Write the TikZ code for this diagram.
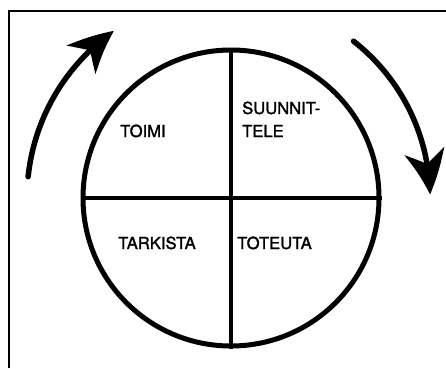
\documentclass[tikz,border=0pt]{standalone}
\usepackage{fontspec}
\setmainfont{TeX Gyre Heros}
\newfontfamily\phasefont{TeX Gyre Heros}[RawFeature={embolden=1.6}]
\usetikzlibrary{arrows.meta,bending}

\begin{document}
\begin{tikzpicture}[x=1pt, y=1pt,
    frameline/.style={line width=2.2pt, black},
    ring/.style={circle, draw, line width=5pt, minimum size=296pt, inner sep=0pt},
    divider/.style={line width=4.5pt},
    phase/.style={font=\phasefont\fontsize{16.6}{23}\selectfont, inner sep=0pt, align=left, anchor=base west},
    cyclearrow/.style={line width=5.5pt, line cap=round,
                       -{Stealth[length=44pt, width=40pt, inset=13pt, bend]}}
]
    \useasboundingbox (0,0) rectangle (446,368);

    % frame
    \draw[frameline] (9,0) -- (9,357) -- (446,357);

    % circle split in four
    \node[ring] (kierros) at (231,170) {};
    \draw[divider] (kierros.north) -- (kierros.south);
    \draw[divider] (kierros.west) -- (kierros.east);

    % phases
    \node[phase] (toimi)    at (120,231) {TOIMI};
    \node[phase] (suunn)    at (242,231) {SUUNNIT-\\TELE};
    \node[phase] (tarkista) at (118,119) {TARKISTA};
    \node[phase] (toteuta)  at (237,119) {TOTEUTA};

    % direction of the cycle
    \draw[cyclearrow] (kierros.center) ++(174:204) arc[start angle=174, end angle=125, radius=204];
    \draw[cyclearrow] (kierros.center) ++(52:199) arc[start angle=52, end angle=1, radius=199];
\end{tikzpicture}
\end{document}
